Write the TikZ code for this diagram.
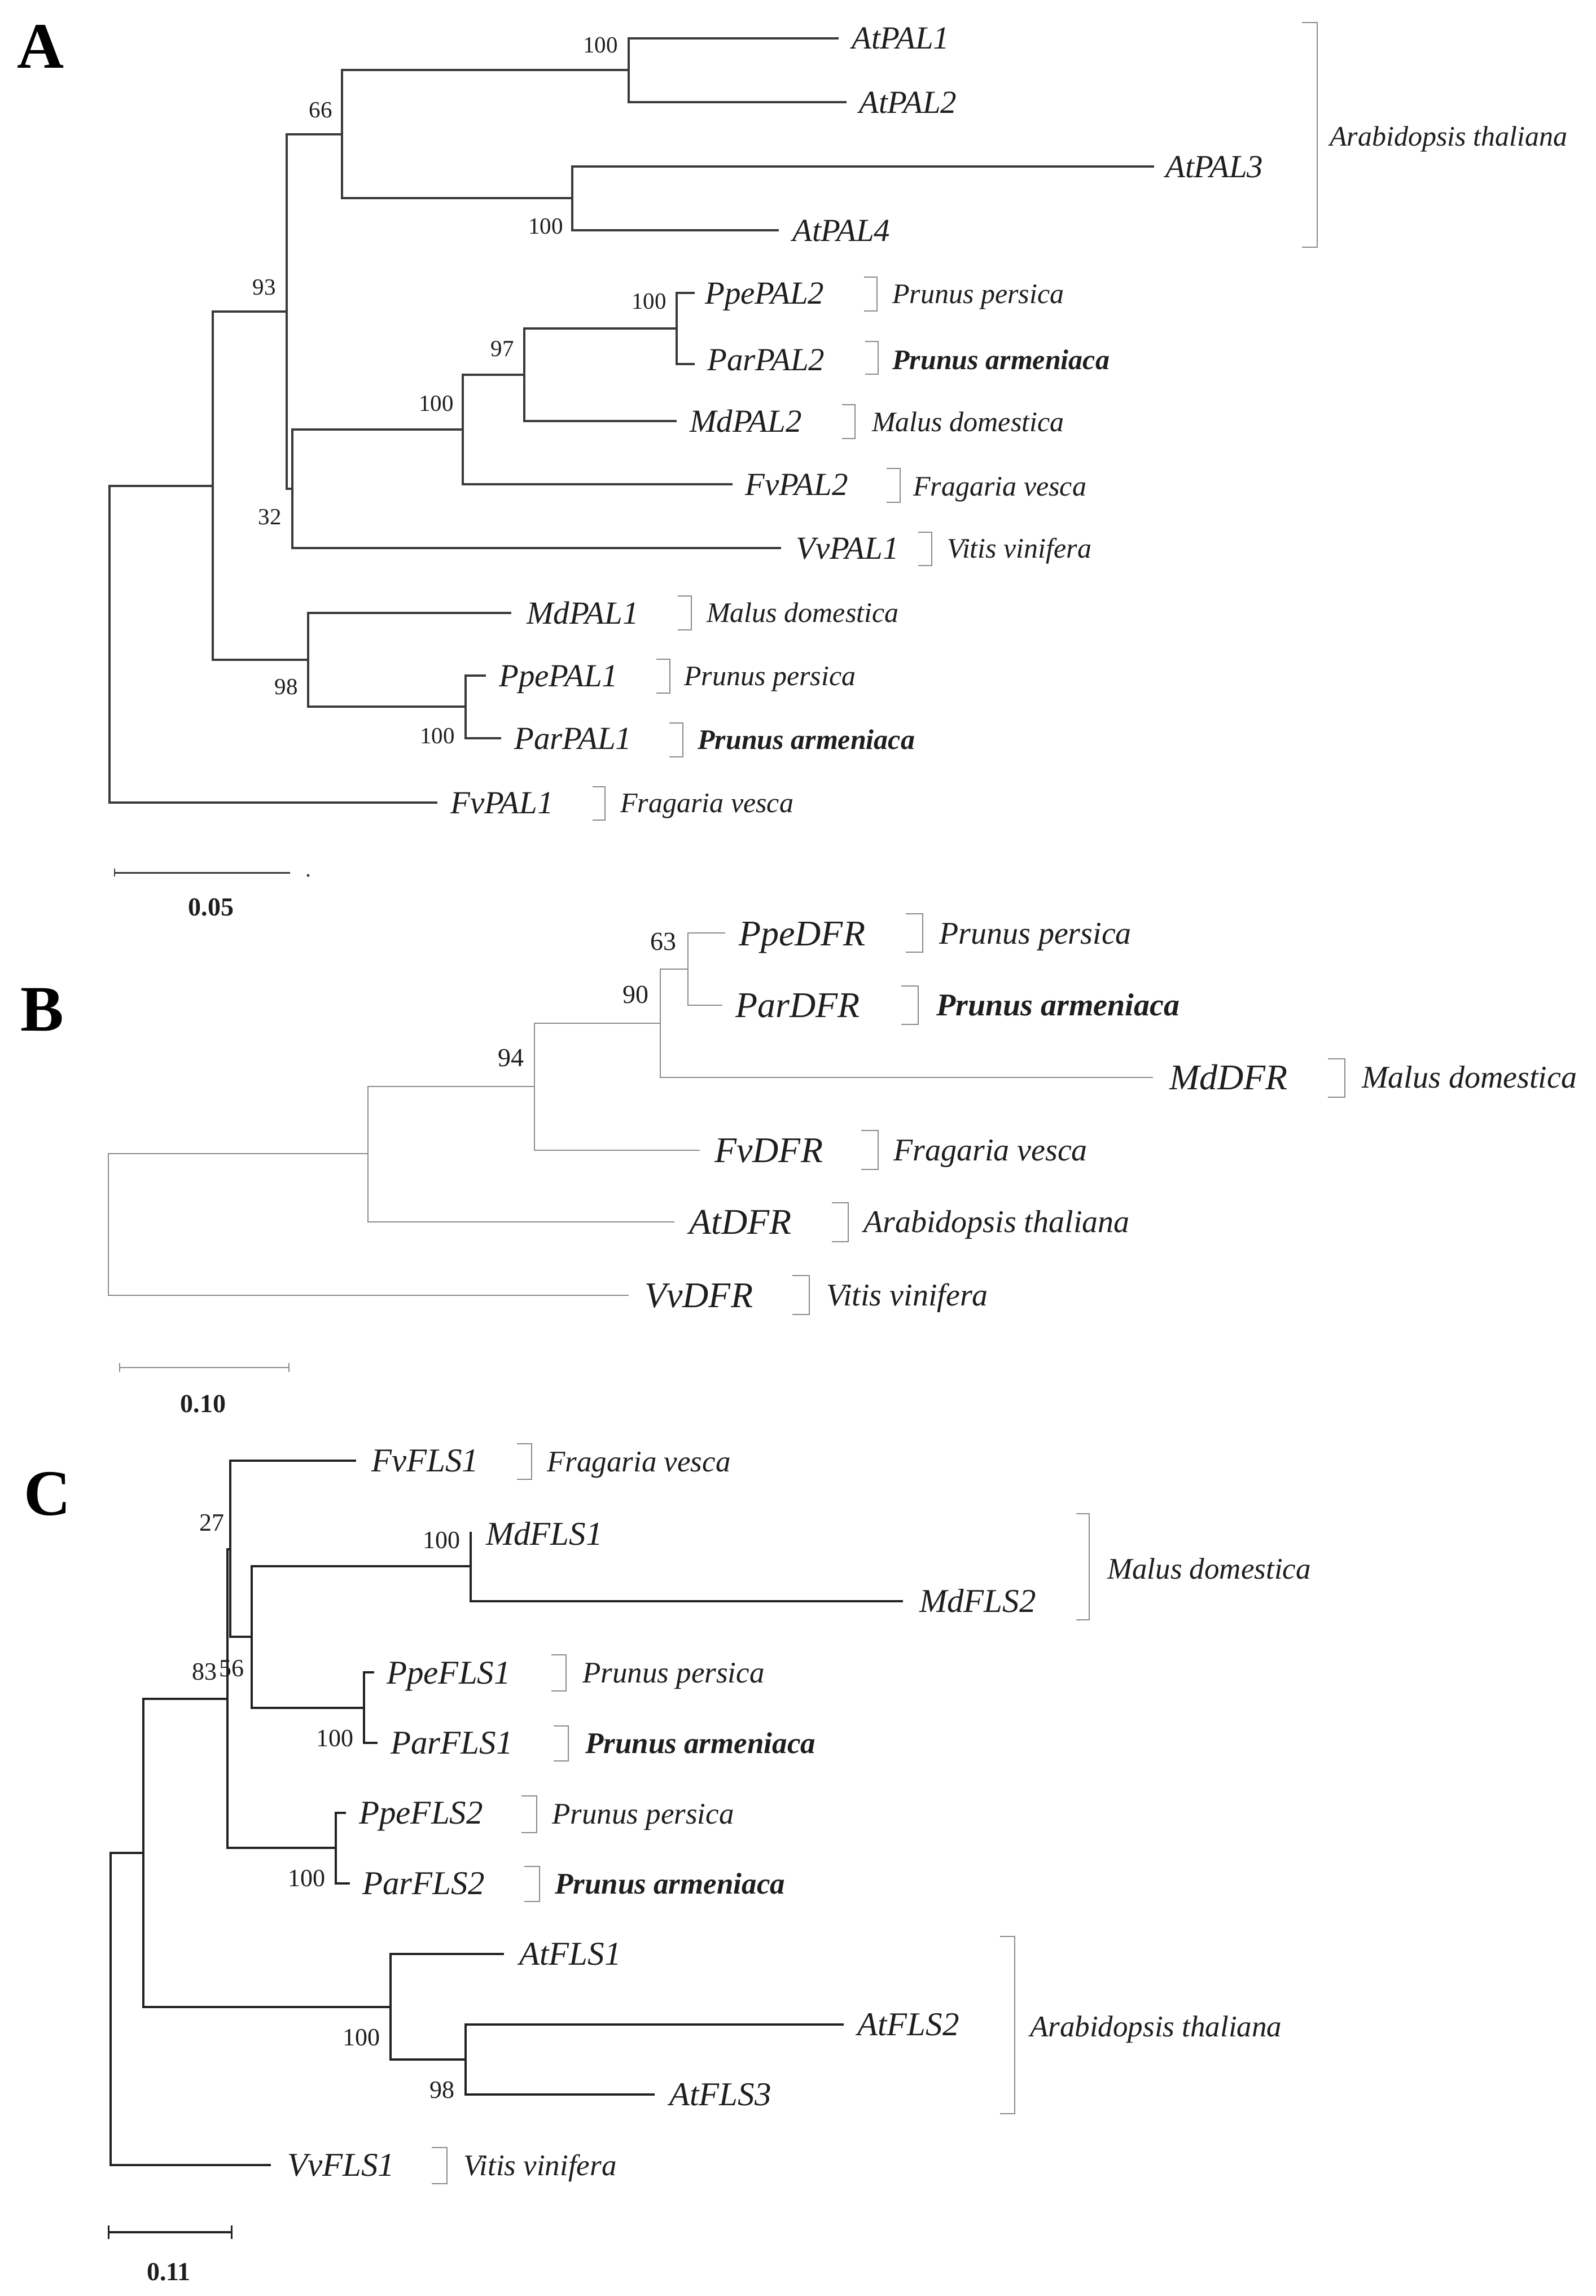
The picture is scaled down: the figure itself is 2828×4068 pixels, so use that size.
\documentclass[tikz,border=0pt]{standalone}
\usepackage{fontspec}
\setmainfont{Liberation Serif}
\definecolor{linA}{HTML}{3A3A3A}
\definecolor{linB}{HTML}{8C8C8C}
\definecolor{linC}{HTML}{222222}
\definecolor{brkc}{HTML}{8A8A8A}
\definecolor{txt}{HTML}{1E1E1E}
\newcommand\mybrk[4]{\draw[brkline] (#1-#4,#2) -- (#1,#2) -- (#1,#3) -- (#1-#4,#3);}
\tikzset{
  brA/.style={draw=linA, line width=3.5pt},
  brB/.style={draw=linB, line width=2.2pt},
  brC/.style={draw=linC, line width=3.5pt},
  brkline/.style={draw=brkc, line width=2.5pt},
  lab/.style={inner sep=0pt, text=txt},
  geneA/.style={lab, anchor=west, font=\fontsize{57}{60}\selectfont\itshape, text height=38pt, text depth=0pt},
  geneB/.style={lab, anchor=west, font=\fontsize{64}{68}\selectfont\itshape, text height=42pt, text depth=0pt},
  geneC/.style={lab, anchor=west, font=\fontsize{59}{62}\selectfont\itshape, text height=39pt, text depth=0pt},
  spA/.style={lab, anchor=west, font=\fontsize{50}{54}\selectfont\itshape, text height=33pt, text depth=0pt},
  spB/.style={lab, anchor=west, font=\fontsize{56}{60}\selectfont\itshape, text height=37pt, text depth=0pt},
  spC/.style={lab, anchor=west, font=\fontsize{53}{57}\selectfont\itshape, text height=35pt, text depth=0pt},
  bsA/.style={lab, font=\fontsize{41}{44}\selectfont, text height=28pt, text depth=0pt},
  bsB/.style={lab, font=\fontsize{46}{50}\selectfont, text height=31pt, text depth=0pt},
  bsC/.style={lab, font=\fontsize{44}{48}\selectfont, text height=30pt, text depth=0pt},
  panel/.style={lab, font=\fontsize{115}{120}\selectfont\bfseries, text=black, text height=78pt, text depth=0pt},
  scl/.style={lab, font=\fontsize{46}{50}\selectfont\bfseries, text height=31pt, text depth=0pt}
}
\begin{document}
\begin{tikzpicture}[x=1pt,y=-1pt]
\useasboundingbox (0,0) rectangle (2828,4068);
\fill[white] (0,0) rectangle (2828,4068);

%================ Panel A ================
\node[panel] (labA) at (72,82) {A};
% internal nodes
\coordinate (A0) at (194,1141);
\coordinate (A1) at (377,861);
\coordinate (A93) at (508,552);
\coordinate (A66) at (606,238);
\coordinate (Aat12) at (1114,124);
\coordinate (Aat34) at (1014,351);
\coordinate (A32) at (518,866);
\coordinate (A100b) at (820,761);
\coordinate (A97) at (929,664);
\coordinate (Ap2) at (1199,582);
\coordinate (A98) at (546,1169);
\coordinate (Ap1) at (825,1252);
% tips
\coordinate (pAtPAL1) at (1486,68);
\coordinate (pAtPAL2) at (1500,181);
\coordinate (pAtPAL3) at (2045,295);
\coordinate (pAtPAL4) at (1380,408);
\coordinate (pPpePAL2) at (1231,519);
\coordinate (pParPAL2) at (1231,645);
\coordinate (pMdPAL2) at (1199,746);
\coordinate (pFvPAL2) at (1298,858);
\coordinate (pVvPAL1) at (1384,971);
\coordinate (pMdPAL1) at (906,1086);
\coordinate (pPpePAL1) at (861,1197);
\coordinate (pParPAL1) at (888,1308);
\coordinate (pFvPAL1) at (775,1422);
% branches
\draw[brA] (A0) |- (A1);  \draw[brA] (A0) |- (pFvPAL1);
\draw[brA] (A1) |- (A93); \draw[brA] (A1) |- (A98);
\draw[brA] (A93) |- (A66); \draw[brA] (A93) |- (A32);
\draw[brA] (A66) |- (Aat12); \draw[brA] (A66) |- (Aat34);
\draw[brA] (Aat12) |- (pAtPAL1); \draw[brA] (Aat12) |- (pAtPAL2);
\draw[brA] (Aat34) |- (pAtPAL3); \draw[brA] (Aat34) |- (pAtPAL4);
\draw[brA] (A32) |- (A100b); \draw[brA] (A32) |- (pVvPAL1);
\draw[brA] (A100b) |- (A97); \draw[brA] (A100b) |- (pFvPAL2);
\draw[brA] (A97) |- (Ap2); \draw[brA] (A97) |- (pMdPAL2);
\draw[brA] (Ap2) |- (pPpePAL2); \draw[brA] (Ap2) |- (pParPAL2);
\draw[brA] (A98) |- (pMdPAL1); \draw[brA] (A98) |- (Ap1);
\draw[brA] (Ap1) |- (pPpePAL1); \draw[brA] (Ap1) |- (pParPAL1);
% gene labels
\node[geneA] (tAtPAL1) at (1509,68) {AtPAL1};
\node[geneA] (tAtPAL2) at (1522,181) {AtPAL2};
\node[geneA] (tAtPAL3) at (2065,295) {AtPAL3};
\node[geneA] (tAtPAL4) at (1404,408) {AtPAL4};
\node[geneA] (tPpePAL2) at (1249,519) {PpePAL2};
\node[geneA] (tParPAL2) at (1253,637) {ParPAL2};
\node[geneA] (tMdPAL2) at (1222,746) {MdPAL2};
\node[geneA] (tFvPAL2) at (1320,858) {FvPAL2};
\node[geneA] (tVvPAL1) at (1410,971) {VvPAL1};
\node[geneA] (tMdPAL1) at (933,1086) {MdPAL1};
\node[geneA] (tPpePAL1) at (884,1197) {PpePAL1};
\node[geneA] (tParPAL1) at (911,1308) {ParPAL1};
\node[geneA] (tFvPAL1) at (798,1422) {FvPAL1};
% bootstrap
\node[bsA] (bA1) at (1064,80) {100};
\node[bsA] (bA2) at (568,194) {66};
\node[bsA] (bA3) at (967,400) {100};
\node[bsA] (bA4) at (468,508) {93};
\node[bsA] (bA5) at (1150,533) {100};
\node[bsA] (bA6) at (890,617) {97};
\node[bsA] (bA7) at (773,714) {100};
\node[bsA] (bA8) at (478,915) {32};
\node[bsA] (bA9) at (507,1216) {98};
\node[bsA] (bA10) at (775,1303) {100};
% species
\mybrk{2334}{40}{438}{27}
\node[spA] (sA0) at (2356,242) {Arabidopsis thaliana};
\mybrk{1554}{491}{551}{23}
\node[spA] (sA1) at (1581,521) {Prunus persica};
\mybrk{1556}{605}{663}{23}
\node[spA] (sA2) at (1581,638) {\bfseries Prunus armeniaca};
\mybrk{1515}{717}{777}{23}
\node[spA] (sA3) at (1545,748) {Malus domestica};
\mybrk{1595}{830}{890}{24}
\node[spA] (sA4) at (1618,862) {Fragaria vesca};
\mybrk{1651}{943}{1002}{24}
\node[spA] (sA5) at (1678,972) {Vitis vinifera};
\mybrk{1225}{1056}{1116}{24}
\node[spA] (sA6) at (1252,1086) {Malus domestica};
\mybrk{1187}{1168}{1228}{24}
\node[spA] (sA7) at (1212,1198) {Prunus persica};
\mybrk{1210}{1281}{1341}{24}
\node[spA] (sA8) at (1236,1311) {\bfseries Prunus armeniaca};
\mybrk{1072}{1394}{1453}{22}
\node[spA] (sA9) at (1099,1423) {Fragaria vesca};
% scale
\coordinate (sclA1) at (203,1546);
\coordinate (sclA2) at (514,1546);
\draw[draw=linA, line width=3pt] (sclA1) -- (sclA2);
\draw[draw=linA, line width=2.5pt] ([yshift=7pt]sclA1) -- ([yshift=-7pt]sclA1);
\fill[linA] (546,1551) circle (2.5);
\node[scl] (sclAt) at (374,1607) {0.05};

%================ Panel B ================
\node[panel] (labB) at (75,1787) {B};
\coordinate (B0) at (192,2170);
\coordinate (B1) at (652,2044);
\coordinate (B94) at (947,1925);
\coordinate (B90) at (1170,1813);
\coordinate (B63) at (1219,1717);
\coordinate (pPpeDFR) at (1285,1653);
\coordinate (pParDFR) at (1280,1781);
\coordinate (pMdDFR) at (2043,1909);
\coordinate (pFvDFR) at (1240,2038);
\coordinate (pAtDFR) at (1195,2165);
\coordinate (pVvDFR) at (1114,2295);
\draw[brB] (B0) |- (B1); \draw[brB] (B0) |- (pVvDFR);
\draw[brB] (B1) |- (B94); \draw[brB] (B1) |- (pAtDFR);
\draw[brB] (B94) |- (B90); \draw[brB] (B94) |- (pFvDFR);
\draw[brB] (B90) |- (B63); \draw[brB] (B90) |- (pMdDFR);
\draw[brB] (B63) |- (pPpeDFR); \draw[brB] (B63) |- (pParDFR);
\node[geneB] (tPpeDFR) at (1309,1654) {PpeDFR};
\node[geneB] (tParDFR) at (1303,1781) {ParDFR};
\node[geneB] (tMdDFR) at (2072,1909) {MdDFR};
\node[geneB] (tFvDFR) at (1266,2038) {FvDFR};
\node[geneB] (tAtDFR) at (1221,2165) {AtDFR};
\node[geneB] (tVvDFR) at (1142,2295) {VvDFR};
\node[bsB] (bB1) at (1175,1668) {63};
\node[bsB] (bB2) at (1126,1762) {90};
\node[bsB] (bB3) at (905,1874) {94};
\mybrk{1635}{1619}{1687}{30}
\node[spB] (sB1) at (1664,1654) {Prunus persica};
\mybrk{1627}{1747}{1815}{30}
\node[spB] (sB2) at (1659,1781) {\bfseries Prunus armeniaca};
\mybrk{2383}{1876}{1944}{30}
\node[spB] (sB3) at (2413,1909) {Malus domestica};
\mybrk{1556}{2003}{2072}{30}
\node[spB] (sB4) at (1583,2038) {Fragaria vesca};
\mybrk{1503}{2131}{2200}{29}
\node[spB] (sB5) at (1530,2165) {Arabidopsis thaliana};
\mybrk{1434}{2260}{2329}{30}
\node[spB] (sB6) at (1464,2295) {Vitis vinifera};
\coordinate (sclB1) at (212,2423);
\coordinate (sclB2) at (512,2423);
\draw[draw=linB, line width=2.2pt] (sclB1) -- (sclB2);
\draw[draw=linB, line width=2.2pt] ([yshift=8pt]sclB1) -- ([yshift=-8pt]sclB1);
\draw[draw=linB, line width=2.2pt] ([yshift=8pt]sclB2) -- ([yshift=-8pt]sclB2);
\node[scl] (sclBt) at (360,2487) {0.10};

%================ Panel C ================
\node[panel] (labC) at (84,2645) {C};
\coordinate (C0) at (196,3281);
\coordinate (C1) at (254,3283);
\coordinate (C83) at (403,3010);
\coordinate (C27) at (408,2745);
\coordinate (C56) at (446,2900);
\coordinate (CMd) at (834,2775);
\coordinate (Cp1) at (645,3026);
\coordinate (Cp2) at (595,3274);
\coordinate (CAt) at (692,3556);
\coordinate (C98) at (825,3649);
\coordinate (pFvFLS1) at (631,2588);
\coordinate (pMdFLS1) at (834,2714);
\coordinate (pMdFLS2) at (1600,2837);
\coordinate (pPpeFLS1) at (663,2963);
\coordinate (pParFLS1) at (669,3088);
\coordinate (pPpeFLS2) at (613,3212);
\coordinate (pParFLS2) at (620,3337);
\coordinate (pAtFLS1) at (893,3462);
\coordinate (pAtFLS2) at (1495,3587);
\coordinate (pAtFLS3) at (1160,3711);
\coordinate (pVvFLS1) at (480,3836);
\draw[brC] (C0) |- (C1); \draw[brC] (C0) |- (pVvFLS1);
\draw[brC] (C1) |- (C83); \draw[brC] (C1) |- (CAt);
\draw[brC] (C83) |- (C27); \draw[brC] (C83) |- (Cp2);
\draw[brC] (C27) |- (pFvFLS1); \draw[brC] (C27) |- (C56);
\draw[brC] (C56) |- (CMd); \draw[brC] (C56) |- (Cp1);
\draw[brC] (CMd) |- (pMdFLS1); \draw[brC] (CMd) |- (pMdFLS2);
\draw[brC] (Cp1) |- (pPpeFLS1); \draw[brC] (Cp1) |- (pParFLS1);
\draw[brC] (Cp2) |- (pPpeFLS2); \draw[brC] (Cp2) |- (pParFLS2);
\draw[brC] (CAt) |- (pAtFLS1); \draw[brC] (CAt) |- (C98);
\draw[brC] (C98) |- (pAtFLS2); \draw[brC] (C98) |- (pAtFLS3);
\node[geneC] (tFvFLS1) at (658,2588) {FvFLS1};
\node[geneC] (tMdFLS1) at (861,2718) {MdFLS1};
\node[geneC] (tMdFLS2) at (1629,2837) {MdFLS2};
\node[geneC] (tPpeFLS1) at (685,2964) {PpeFLS1};
\node[geneC] (tParFLS1) at (692,3088) {ParFLS1};
\node[geneC] (tPpeFLS2) at (636,3212) {PpeFLS2};
\node[geneC] (tParFLS2) at (642,3337) {ParFLS2};
\node[geneC] (tAtFLS1) at (920,3462) {AtFLS1};
\node[geneC] (tAtFLS2) at (1519,3587) {AtFLS2};
\node[geneC] (tAtFLS3) at (1186,3711) {AtFLS3};
\node[geneC] (tVvFLS1) at (509,3836) {VvFLS1};
\node[bsC] (bC1) at (375,2697) {27};
\node[bsC] (bC2) at (362,2961) {83};
\node[bsC] (bC3) at (410,2955) {56};
\node[bsC] (bC4) at (782,2728) {100};
\node[bsC] (bC5) at (593,3079) {100};
\node[bsC] (bC6) at (543,3327) {100};
\node[bsC] (bC7) at (640,3609) {100};
\node[bsC] (bC8) at (783,3702) {98};
\mybrk{942}{2558}{2621}{26}
\node[spC] (sC1) at (969,2590) {Fragaria vesca};
\mybrk{1930}{2682}{2870}{23}
\node[spC] (sC2) at (1962,2780) {Malus domestica};
\mybrk{1003}{2932}{2996}{26}
\node[spC] (sC3) at (1032,2964) {Prunus persica};
\mybrk{1007}{3058}{3120}{26}
\node[spC] (sC4) at (1037,3089) {\bfseries Prunus armeniaca};
\mybrk{951}{3182}{3247}{27}
\node[spC] (sC5) at (978,3214) {Prunus persica};
\mybrk{956}{3307}{3369}{27}
\node[spC] (sC6) at (983,3338) {\bfseries Prunus armeniaca};
\mybrk{1798}{3431}{3745}{26}
\node[spC] (sC7) at (1825,3591) {Arabidopsis thaliana};
\mybrk{792}{3805}{3869}{27}
\node[spC] (sC8) at (821,3837) {Vitis vinifera};
\coordinate (sclC1) at (192,3955);
\coordinate (sclC2) at (410,3955);
\draw[draw=linC, line width=3.5pt] (sclC1) -- (sclC2);
\draw[draw=linC, line width=3pt] ([yshift=12pt]sclC1) -- ([yshift=-12pt]sclC1);
\draw[draw=linC, line width=3pt] ([yshift=12pt]sclC2) -- ([yshift=-12pt]sclC2);
\node[scl] (sclCt) at (299,4025) {0.11};
\end{tikzpicture}
\end{document}
